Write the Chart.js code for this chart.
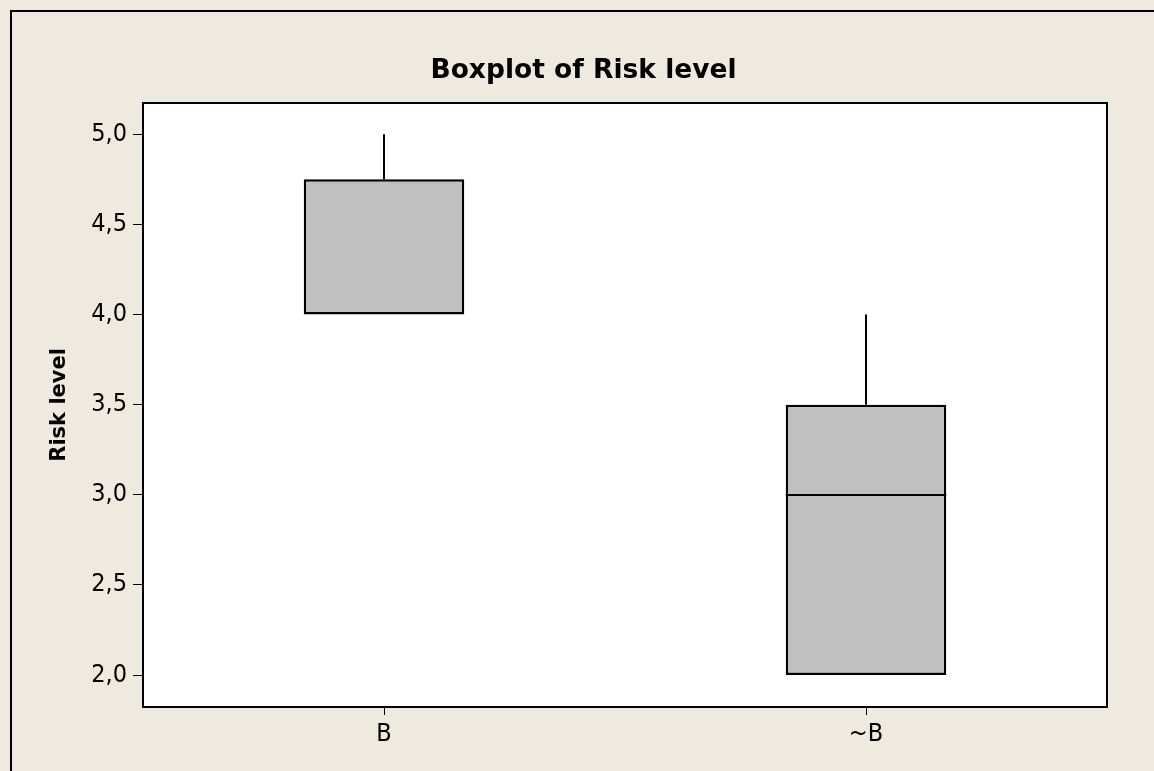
<!DOCTYPE html>
<html>
<head>
<meta charset="utf-8">
<title>Boxplot of Risk level</title>
<script src="https://cdn.jsdelivr.net/npm/chart.js@4/dist/chart.umd.min.js"></script>
<style>
  html, body { margin: 0; padding: 0; background: #EEEAE0; }
  canvas { display: block; }
</style>
</head>
<body>
<canvas id="chart" width="1154" height="771"></canvas>
<script>
// Five-number summaries for each group
const categories = ['B', '~B'];
const whiskerLow = [4.0, 2.0];
const q1 = [4.0, 2.0];
const median = [4.0, 3.0];
const q3 = [4.75, 3.5];
const whiskerHigh = [5.0, 4.0];
const yTicks = [2.0, 2.5, 3.0, 3.5, 4.0, 4.5, 5.0];

const FONT = "'DejaVu Sans Condensed', 'DejaVu Sans', sans-serif";
const TITLE_FONT = "'DejaVu Sans', sans-serif";

// Plot background, outer frame, box frame, whiskers and medians
const boxPlotExtras = {
  id: 'boxPlotExtras',
  beforeDraw(chart) {
    const { ctx, chartArea: a } = chart;
    ctx.save();
    ctx.fillStyle = '#FFFFFF';
    ctx.fillRect(a.left, a.top, a.right - a.left, a.bottom - a.top);
    ctx.strokeStyle = '#000';
    ctx.lineWidth = 2;
    ctx.beginPath();
    ctx.moveTo(11, chart.height);
    ctx.lineTo(11, 11);
    ctx.lineTo(chart.width, 11);
    ctx.stroke();
    ctx.restore();
  },
  afterDatasetsDraw(chart) {
    const { ctx, chartArea: a, scales } = chart;
    const x = scales.x, y = scales.y;
    const meta = chart.getDatasetMeta(0);
    ctx.save();
    ctx.strokeStyle = '#000';
    ctx.lineWidth = 2;
    categories.forEach((c, i) => {
      const cx = Math.round(x.getPixelForValue(i));
      const bar = meta.data[i];
      const half = bar.width / 2;
      ctx.beginPath();
      // upper whisker
      ctx.moveTo(cx, y.getPixelForValue(q3[i]));
      ctx.lineTo(cx, y.getPixelForValue(whiskerHigh[i]));
      // lower whisker
      ctx.moveTo(cx, y.getPixelForValue(q1[i]));
      ctx.lineTo(cx, y.getPixelForValue(whiskerLow[i]));
      ctx.stroke();
      // median (skipped where it sits on the box edge)
      if (median[i] !== q1[i] && median[i] !== q3[i]) {
        const my = Math.round(y.getPixelForValue(median[i]));
        ctx.beginPath();
        ctx.moveTo(cx - half, my);
        ctx.lineTo(cx + half, my);
        ctx.stroke();
      }
    });
    ctx.strokeRect(Math.round(a.left), Math.round(a.top),
                   Math.round(a.right - a.left), Math.round(a.bottom - a.top));
    ctx.restore();
  }
};

new Chart(document.getElementById('chart'), {
  type: 'bar',
  data: {
    labels: categories,
    datasets: [{
      data: categories.map((c, i) => [q1[i], q3[i]]),
      backgroundColor: '#C0C0C0',
      borderColor: '#000000',
      borderWidth: 2.5,
      borderSkipped: false,
      barPercentage: 1,
      categoryPercentage: 0.333
    }]
  },
  options: {
    responsive: false,
    animation: false,
    devicePixelRatio: 1,
    layout: { padding: { left: 13, right: 0, top: 0, bottom: 0 } },
    plugins: {
      legend: { display: false },
      tooltip: { enabled: false },
      title: {
        display: true,
        text: 'Boxplot of Risk level',
        color: '#000',
        font: { family: TITLE_FONT, size: 26.5, weight: 'bold' },
        padding: { top: 55, bottom: 16 }
      }
    },
    scales: {
      x: {
        type: 'category',
        offset: true,
        grid: {
          offset: false,
          drawOnChartArea: false,
          drawTicks: true,
          tickLength: 8,
          color: '#000',
          lineWidth: 1
        },
        border: { display: false },
        ticks: {
          color: '#000',
          font: { family: FONT, size: 25 },
          padding: 4
        },
        afterFit(scale) { scale.height = 64; }
      },
      y: {
        type: 'linear',
        min: 1.823,
        max: 5.174,
        afterBuildTicks(scale) { scale.ticks = yTicks.map(v => ({ value: v })); },
        grid: {
          drawOnChartArea: false,
          drawTicks: true,
          tickLength: 10,
          color: '#000',
          lineWidth: 1
        },
        border: { display: false },
        ticks: {
          color: '#000',
          font: { family: FONT, size: 25 },
          padding: 6,
          callback: v => v.toFixed(1).replace('.', ',')
        },
        title: {
          display: true,
          text: 'Risk level',
          color: '#000',
          font: { family: TITLE_FONT, size: 21, weight: 'bold' },
          padding: { top: 34, bottom: 0 }
        },
        afterFit(scale) { scale.width = 130; }
      },
      yRight: {
        type: 'linear',
        position: 'right',
        display: true,
        grid: { display: false },
        border: { display: false },
        ticks: { display: false },
        afterFit(scale) { scale.width = 47; }
      }
    }
  },
  plugins: [boxPlotExtras]
});
</script>
</body>
</html>
